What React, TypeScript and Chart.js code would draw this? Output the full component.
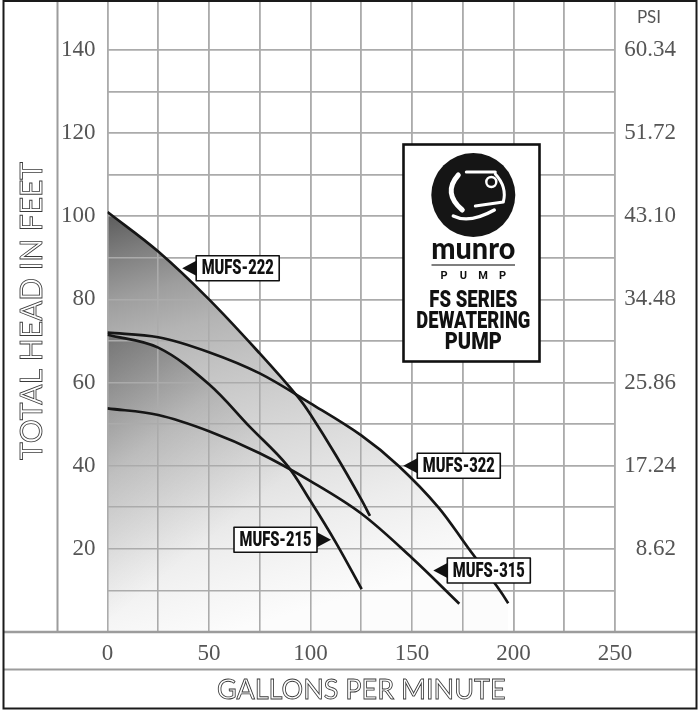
import React, { useEffect, useRef } from 'react';
import { Chart, registerables } from 'chart.js';

Chart.register(...registerables);

// ---- data ----
const flow222 = [0, 25, 50, 75, 93.7, 100, 112.5, 125, 129.3];
const head222 = [101, 91.5, 80, 67, 56.6, 52.3, 42.5, 31.9, 27.9];

const flow322 = [0, 25, 50, 75, 100, 125, 143.3, 163, 177.7, 193.3, 197.4];
const head322 = [72, 70.9, 67.3, 62.2, 55, 47.3, 40, 30, 20.2, 10, 6.9];

const flow215 = [0, 25, 50, 70, 88.3, 100, 112.5, 125.2];
const head215 = [71.5, 68.4, 59.6, 49.4, 40.2, 31.5, 21.5, 10.3];

const flow315 = [0, 25, 50, 75, 100, 125, 150, 173.3];
const head315 = [53.8, 52.2, 48.3, 43, 36.3, 28.5, 17.8, 6.8];

const headTickLabels = [20, 40, 60, 80, 100, 120, 140];
const psiTickLabels = ['8.62', '17.24', '25.86', '34.48', '43.10', '51.72', '60.34'];
const gpmTickLabels = [0, 50, 100, 150, 200, 250];

const tagNames = ['MUFS-222', 'MUFS-322', 'MUFS-215', 'MUFS-315'];
// arrow tip location in data units
const tagGpm = [36.8, 145.7, 110.1, 160.5];
const tagHead = [87.5, 40.0, 22.2, 14.8];
const tagSide = ['right', 'right', 'left', 'right'];

const W = 698;
const H = 710;

const pts = (xs: number[], ys: number[]) => xs.map((x, i) => ({ x, y: ys[i] }));

export default function App() {
  const ref = useRef<HTMLCanvasElement>(null);

  useEffect(() => {
    const canvas = ref.current!;

    const mainGrad = (c: any) => {
      const ch = c.chart;
      if (!ch.chartArea) return 'rgba(0,0,0,0)';
      const xs = ch.scales.x, ys = ch.scales.y;
      const g = ch.ctx.createLinearGradient(
        xs.getPixelForValue(0), ys.getPixelForValue(101),
        xs.getPixelForValue(60), ys.getPixelForValue(0)
      );
      const stops = [90, 126, 158, 180, 194, 206, 217, 227, 237, 245, 252];
      stops.forEach((v, i) => g.addColorStop(i / 10, `rgb(${v},${v},${v})`));
      return g;
    };
    const overlayGrad = (c: any) => {
      const ch = c.chart;
      if (!ch.chartArea) return 'rgba(0,0,0,0)';
      const xs = ch.scales.x, ys = ch.scales.y;
      const g = ch.ctx.createLinearGradient(
        xs.getPixelForValue(0), ys.getPixelForValue(72),
        xs.getPixelForValue(70), ys.getPixelForValue(30)
      );
      g.addColorStop(0, 'rgba(0,0,0,0.34)');
      g.addColorStop(0.5, 'rgba(0,0,0,0.11)');
      g.addColorStop(1, 'rgba(0,0,0,0)');
      return g;
    };

    const line = (ctx: CanvasRenderingContext2D, x1: number, y1: number, x2: number, y2: number) => {
      ctx.beginPath();
      ctx.moveTo(x1, y1);
      ctx.lineTo(x2, y2);
      ctx.stroke();
    };

    const drawTag = (ctx: CanvasRenderingContext2D, tx: number, ty: number, text: string, side: string) => {
      const aw = 14, ah = 7.5, bw = 83, bh = 25;
      const dir = side === 'right' ? 1 : -1;
      const baseX = tx + dir * aw;
      ctx.fillStyle = '#111';
      ctx.beginPath();
      ctx.moveTo(tx, ty);
      ctx.lineTo(baseX, ty - ah);
      ctx.lineTo(baseX, ty + ah);
      ctx.closePath();
      ctx.fill();
      const bx = side === 'right' ? baseX : baseX - bw;
      ctx.fillStyle = '#fff';
      ctx.fillRect(bx, ty - bh / 2, bw, bh);
      ctx.strokeStyle = '#111';
      ctx.lineWidth = 1.6;
      ctx.strokeRect(bx, ty - bh / 2, bw, bh);
      ctx.fillStyle = '#111';
      ctx.font = '900 21px Roboto';
      ctx.textAlign = 'center';
      ctx.textBaseline = 'middle';
      ctx.fillText(text, bx + bw / 2, ty + 1, 72);
    };

    const drawLogo = (ctx: CanvasRenderingContext2D) => {
      const x0 = 403.5, y0 = 144.5, w = 136, h = 217;
      ctx.fillStyle = '#fff';
      ctx.fillRect(x0, y0, w, h);
      ctx.strokeStyle = '#111';
      ctx.lineWidth = 2.6;
      ctx.strokeRect(x0, y0, w, h);
      const cx = 473.3, cy = 195;
      ctx.fillStyle = '#151515';
      ctx.beginPath();
      ctx.arc(cx, cy, 42, 0, Math.PI * 2);
      ctx.fill();
      // pump glyph
      ctx.strokeStyle = '#fff';
      ctx.lineCap = 'round';
      ctx.lineJoin = 'round';
      ctx.lineWidth = 5;
      ctx.beginPath();
      ctx.moveTo(cx - 15, cy - 20);
      ctx.quadraticCurveTo(cx - 31, cy - 2, cx - 11, cy + 15);
      ctx.stroke();
      ctx.lineWidth = 3;
      ctx.beginPath();
      ctx.moveTo(cx - 7, cy - 23);
      ctx.lineTo(cx + 22, cy - 23);
      ctx.stroke();
      ctx.beginPath();
      ctx.moveTo(cx + 22, cy - 21);
      ctx.quadraticCurveTo(cx + 34, cy - 8, cx + 30, cy + 7);
      ctx.lineTo(cx + 2, cy + 11);
      ctx.stroke();
      ctx.lineWidth = 2.4;
      ctx.beginPath();
      ctx.arc(cx + 18, cy - 13, 5, 0, Math.PI * 2);
      ctx.stroke();
      ctx.lineWidth = 3.4;
      ctx.beginPath();
      ctx.moveTo(cx - 20, cy + 21);
      ctx.quadraticCurveTo(cx - 4, cy + 29, cx + 21, cy + 15);
      ctx.stroke();
      ctx.lineCap = 'butt';
      // brand
      ctx.fillStyle = '#111';
      ctx.textAlign = 'center';
      ctx.textBaseline = 'alphabetic';
      ctx.font = '900 31px Lato';
      ctx.fillText('munro', cx, 258.5, 84);
      ctx.strokeStyle = '#555';
      ctx.lineWidth = 1.4;
      line(ctx, 431.5, 265, 515, 265);
      ctx.font = 'bold 11px Roboto';
      ctx.textBaseline = 'middle';
      ['P', 'U', 'M', 'P'].forEach((ch, i) => ctx.fillText(ch, 444 + i * 19.5, 276));
      ctx.font = '900 23px Roboto';
      ctx.fillText('FS SERIES', cx, 301, 88);
      ctx.fillText('DEWATERING', cx, 322, 114);
      ctx.fillText('PUMP', cx, 343, 57);
    };

    const decor = {
      id: 'decor',
      beforeDatasetsDraw(chart: any) {
        const a = chart.chartArea;
        chart.scales.x.drawGrid(a);
        chart.scales.y.drawGrid(a);
      },
      afterDraw(chart: any) {
        const ctx: CanvasRenderingContext2D = chart.ctx;
        const ys = chart.scales.y;
        const xs = chart.scales.x;
        const bottom = ys.getPixelForValue(0);
        ctx.save();
        ctx.strokeStyle = '#9c9c9c';
        ctx.lineWidth = 2;
        line(ctx, 57.5, 0, 57.5, bottom);
        ctx.lineWidth = 2.6;
        line(ctx, 3, bottom, 696, bottom);
        ctx.lineWidth = 2.2;
        line(ctx, 3, 669.5, 696, 669.5);
        // outer frame
        ctx.strokeStyle = '#1a1a1a';
        ctx.lineWidth = 2;
        ctx.strokeRect(3.5, 1, 693, 707.5);

        // axis titles (outlined letters)
        ctx.strokeStyle = '#3a3a3a';
        ctx.lineWidth = 0.85;
        ctx.textAlign = 'center';
        ctx.textBaseline = 'middle';
        ctx.font = '400 27px Lato';
        ctx.strokeText('GALLONS PER MINUTE', (xs.left + xs.right) / 2, 690);
        ctx.save();
        ctx.translate(32, 311);
        ctx.rotate(-Math.PI / 2);
        ctx.font = '400 30px Lato';
        ctx.strokeText('TOTAL HEAD IN FEET', 0, 0);
        ctx.restore();

        ctx.font = '17px Lato';
        ctx.fillStyle = '#555';
        ctx.fillText('PSI', 649, 18);

        drawLogo(ctx);
        tagNames.forEach((n, i) => {
          drawTag(ctx, xs.getPixelForValue(tagGpm[i]), ys.getPixelForValue(tagHead[i]), n, tagSide[i]);
        });
        ctx.restore();
      },
    };

    const tickFont = { family: '"Liberation Serif", serif', size: 23 };
    const lineStyle = {
      borderColor: '#161616',
      borderWidth: 2.7,
      pointRadius: 0,
      tension: 0.35,
    };
    const noPad = (s: any) => {
      s.paddingTop = 0;
      s.paddingBottom = 0;
    };

    const chart = new Chart(canvas, {
      type: 'line',
      data: {
        datasets: [
          { label: 'MUFS-215', data: pts(flow215, head215), fill: 'origin', backgroundColor: overlayGrad, ...lineStyle },
          { label: 'MUFS-315', data: pts(flow315, head315), fill: false, ...lineStyle },
          { label: 'MUFS-222', data: pts(flow222, head222), fill: 'origin', backgroundColor: mainGrad, ...lineStyle },
          { label: 'MUFS-322', data: pts(flow322, head322), fill: 'origin', backgroundColor: mainGrad, ...lineStyle },
        ],
      },
      options: {
        responsive: false,
        animation: false,
        events: [],
        layout: { padding: { left: 0, top: 0, bottom: 0, right: 22 } },
        plugins: {
          legend: { display: false },
          tooltip: { enabled: false },
          filler: { drawTime: 'beforeDatasetsDraw' },
        } as any,
        scales: {
          x: {
            type: 'linear',
            position: 'bottom',
            min: 0,
            max: 250,
            border: { display: false },
            grid: { color: '#ababab', lineWidth: 1.6, drawTicks: false },
            ticks: {
              stepSize: 25,
              autoSkip: false,
              maxRotation: 0,
              padding: 8,
              color: '#555',
              font: tickFont,
              callback: (v: any) => (gpmTickLabels.includes(Number(v)) ? String(v) : ''),
            },
            afterFit: (s: any) => {
              s.height = 78;
              s.paddingLeft = 0;
              s.paddingRight = 0;
            },
          },
          y: {
            type: 'linear',
            position: 'left',
            min: 0,
            max: 152,
            border: { display: false },
            grid: {
              drawTicks: false,
              lineWidth: 1.6,
              color: (c: any) => {
                const v = c.tick ? c.tick.value : -1;
                return v > 0 && v < 150 && v % 10 === 0 ? '#ababab' : 'rgba(0,0,0,0)';
              },
            },
            ticks: {
              stepSize: 10,
              autoSkip: false,
              padding: 12,
              color: '#555',
              font: tickFont,
              callback: (v: any) => (headTickLabels.includes(Number(v)) ? String(v) : ''),
            },
            afterFit: (s: any) => {
              s.width = 107.5;
              noPad(s);
            },
          },
          y2: {
            type: 'linear',
            position: 'right',
            min: 0,
            max: 152,
            border: { display: false },
            grid: { display: false, drawTicks: false },
            ticks: {
              stepSize: 10,
              autoSkip: false,
              padding: 7,
              crossAlign: 'far',
              color: '#555',
              font: tickFont,
              callback: (v: any) => {
                const i = headTickLabels.indexOf(Number(v));
                return i >= 0 ? psiTickLabels[i] : '';
              },
            },
            afterFit: (s: any) => {
              s.width = 61;
              noPad(s);
            },
          },
        },
      } as any,
      plugins: [decor],
    });

    return () => chart.destroy();
  }, []);

  return (
    <div style={{ position: 'absolute', left: 0, top: 0, width: W, height: H, background: '#fff' }}>
      <canvas ref={ref} width={W} height={H} style={{ display: 'block', width: W, height: H }} />
    </div>
  );
}
